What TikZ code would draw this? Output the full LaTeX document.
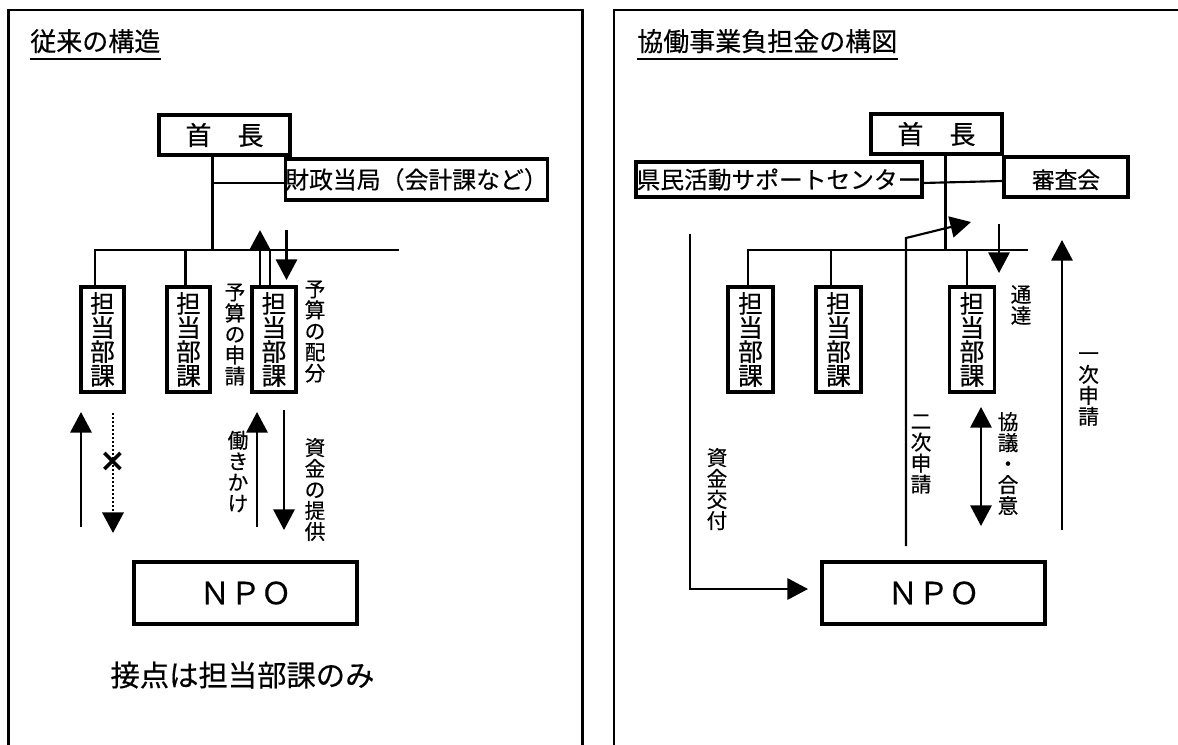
\documentclass[tikz,border=0pt]{standalone}
\usepackage{fontspec}
\setmainfont{Noto Sans CJK JP}[FakeBold=0.4]
\newfontfamily\djv{DejaVu Sans}
\usetikzlibrary{arrows.meta}
\begin{document}
\begin{tikzpicture}[x=0.75pt,y=-0.75pt,
  panel/.style={line width=1.6pt},
  box/.style={draw, line width=2.3pt, inner sep=0pt, align=center},
  conn/.style={line width=1.6pt},
  tip/.tip={Triangle[length=15.5pt,width=16pt]},
  arr/.style={conn, -tip},
  vlab/.style={inner sep=0pt, align=center, font=\fontsize{15.5}{15.75}\selectfont},
  vbox/.style={box, minimum width=32.25pt, minimum height=78.75pt, font=\fontsize{18.5}{18}\selectfont},
  ttl/.style={inner sep=0pt, anchor=base west, font=\fontsize{19.5}{20}\selectfont},
  uline/.style={line width=1.6pt},
  chief/.style={box, minimum width=98.25pt, minimum height=30pt, font=\fontsize{19.5}{20}\selectfont},
  npo/.style={box, minimum width=167.25pt, minimum height=46.5pt, font=\fontsize{23}{23}\selectfont}
]
\useasboundingbox (0,0) rectangle (1178,744);
\clip (0,0) rectangle (1178,744);
\fill[white] (0,0) rectangle (1178,744);

% panels
\draw[panel] (8.5,780) -- (8.5,10) -- (582.5,10) -- (582.5,780);
\draw[panel] (614,780) -- (614,10) -- (1200,10);

% ---------- left panel ----------
\node[ttl] (t1) at (30,51) {従来の構造};
\draw[uline] ([yshift=-6pt]t1.base west) -- ([yshift=-6pt]t1.base east);

\node[chief] (ch1) at (224.5,135) {首　長};
\node[box, minimum width=194.25pt, minimum height=30.75pt, font=\fontsize{17.9}{18}\selectfont] (zs) at (416.5,179.5) {財政当局（会計課など）};

\coordinate (j1) at (212.5,250);
\coordinate (zsl) at (287,183);
\coordinate (barL) at (95,250);
\coordinate (barR) at (399,250);
\coordinate (d2) at (185.5,250);
\coordinate (d3) at (270,250);

\node[vbox] (tb1) at (102.5,339.5) {担\\当\\部\\課};
\node[vbox] (tb2) at (188.5,339.5) {担\\当\\部\\課};
\node[vbox, minimum width=33pt] (tb3) at (274,339.5) {担\\当\\部\\課};

\draw[conn] (ch1.south -| j1) -- (j1);
\draw[conn] (j1 |- zsl) -- (zsl);
\draw[conn] (barL |- tb1.north) -- (barL) -- (barR);
\draw[conn] (d2) -- (d2 |- tb2.north);
\draw[conn] (d3) -- (d3 |- tb3.north);

\coordinate (ua) at (260,230);
\draw[arr, line width=2.2pt] (ua |- tb3.north) -- (ua);
\coordinate (da0) at (286.5,230);
\coordinate (da1) at (286.5,280);
\draw[arr] (da0) -- (da1);

\node[vlab] (l1) at (235,334.5) {予\\算\\の\\申\\請};
\node[vlab] (l2) at (315,331.5) {予\\算\\の\\配\\分};

\coordinate (a1b) at (81,527);  \coordinate (a1t) at (81,412);
\coordinate (a2t) at (113,413); \coordinate (a2b) at (113,533);
\coordinate (a3b) at (257,527); \coordinate (a3t) at (257,412);
\coordinate (a4t) at (284,410); \coordinate (a4b) at (284,530);
\draw[arr] (a1b) -- (a1t);
\draw[arr, line width=2pt, dash pattern=on 1.6pt off 1.4pt] (a2t) -- (a2b);
\node[inner sep=0pt, font=\djv\bfseries\fontsize{24}{24}\selectfont] (xm) at (113,462) {×};
\draw[arr] (a3b) -- (a3t);
\draw[arr] (a4t) -- (a4b);

\node[vlab] (l3) at (238,471.5) {働\\き\\か\\け};
\node[vlab] (l4) at (315,489.5) {資\\金\\の\\提\\供};

\node[npo] (npo1) at (245.5,593) {ＮＰＯ};
\node[inner sep=0pt, font=\fontsize{22}{22}\selectfont] (nt) at (242.5,675) {接点は担当部課のみ};

% ---------- right panel ----------
\node[ttl] (t2) at (637,51) {協働事業負担金の構図};
\draw[uline] ([yshift=-6pt]t2.base west) -- ([yshift=-6pt]t2.base east);

\node[chief] (ch2) at (936.5,134) {首　長};
\node[box, minimum width=214.5pt, minimum height=26.25pt, font=\fontsize{17.8}{18}\selectfont] (kc) at (779,179.5) {県民活動サポートセンター};
\node[box, minimum width=93pt, minimum height=30pt, font=\fontsize{17}{17}\selectfont, text depth=0pt, text height=17pt] (sk) at (1066,177) {審査会};
\draw[conn] ([yshift=-2.6pt]kc.east) -- ([yshift=-3pt]sk.west);

\coordinate (j2) at (945.5,250);
\coordinate (bar2L) at (748,250);
\coordinate (bar2R) at (1028,250);
\coordinate (d5) at (831,250);
\coordinate (d6) at (967,250);

\node[vbox, minimum width=33.75pt] (tb4) at (750.5,339.5) {担\\当\\部\\課};
\node[vbox, minimum width=33.75pt] (tb5) at (838.5,339.5) {担\\当\\部\\課};
\node[vbox, minimum width=33.4pt] (tb6) at (972,339.5) {担\\当\\部\\課};

\draw[conn] (ch2.south -| j2) -- (j2);
\draw[conn] (bar2L |- tb4.north) -- (bar2L) -- (bar2R);
\draw[conn] (d5) -- (d5 |- tb5.north);
\draw[conn] (d6) -- (d6 |- tb6.north);

\node[npo] (npo2) at (933.5,593) {ＮＰＯ};

\coordinate (n2b) at (906,546);
\coordinate (n2c) at (906,238);
\coordinate (n2t) at (971,222);
\draw[arr] (n2b) -- (n2c) -- (n2t);

\coordinate (tt0) at (999,224); \coordinate (tt1) at (999,273);
\draw[arr] (tt0) -- (tt1);

\coordinate (ij0) at (1062,530); \coordinate (ij1) at (1062,240);
\draw[arr] (ij0) -- (ij1);

\coordinate (kg0) at (981,407); \coordinate (kg1) at (981,526);
\draw[conn, tip-tip] (kg0) -- (kg1);

\coordinate (sk0) at (690,234); \coordinate (sk1) at (690,589); \coordinate (sk2) at (808,589);
\draw[arr] (sk0) -- (sk1) -- (sk2);

\node[vlab] (l5) at (1021,305) {通\\達};
\node[vlab] (l6) at (1088.5,389) {一\\次\\申\\請};
\node[vlab] (l7) at (1008,463.5) {協\\議\\・\\合\\意};
\node[vlab] (l8) at (921,454) {二\\次\\申\\請};
\node[vlab] (l9) at (717,489) {資\\金\\交\\付};
\end{tikzpicture}
\end{document}
